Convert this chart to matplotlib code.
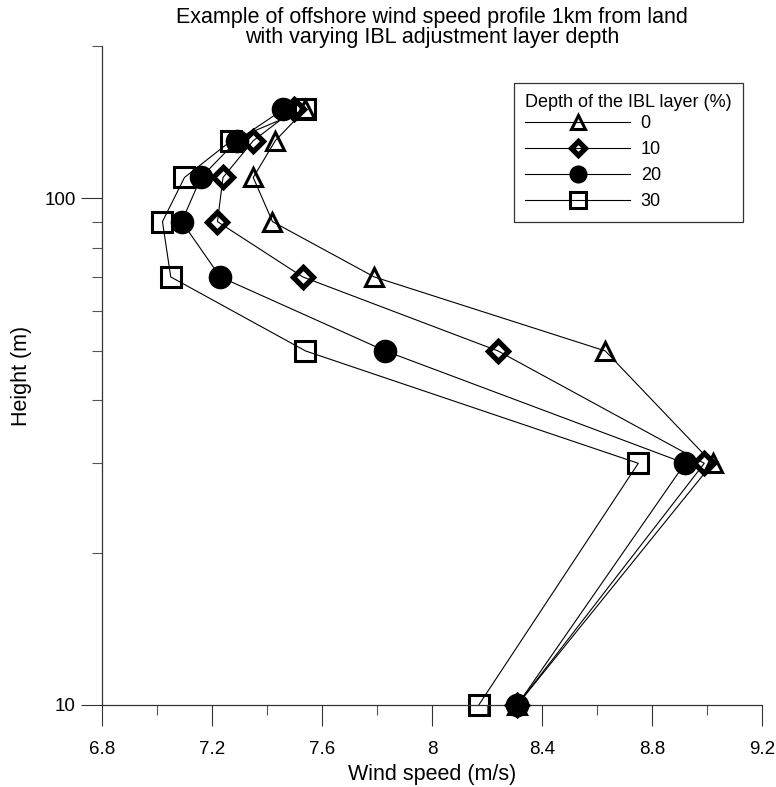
import matplotlib
matplotlib.use("Agg")
import matplotlib.pyplot as plt
from matplotlib.ticker import FixedLocator, NullFormatter, MultipleLocator

plt.rcParams['font.family'] = ['Liberation Sans', 'DejaVu Sans']

# Heights (m) and wind speeds (m/s) for each IBL layer depth
heights = [10, 30, 50, 70, 90, 110, 130, 150]
speed_0 = [8.31, 9.02, 8.63, 7.79, 7.42, 7.35, 7.43, 7.54]
speed_10 = [8.31, 8.99, 8.24, 7.53, 7.22, 7.24, 7.35, 7.50]
speed_20 = [8.31, 8.92, 7.83, 7.23, 7.09, 7.16, 7.29, 7.46]
speed_30 = [8.17, 8.75, 7.54, 7.05, 7.02, 7.10, 7.27, 7.54]
depth_labels = ['0', '10', '20', '30']

fig = plt.figure(figsize=(7.76, 7.87), dpi=100)
ax = fig.add_axes([0.1314, 0.1042, 0.8506, 0.8374])

# (values, marker, size, edge width, face colour, zorder)
styles = [
    (speed_0, '^', 13, 2.2, 'none', 3),
    (speed_10, 'D', 10, 3.8, 'none', 4),
    (speed_20, 'o', 16, 1.0, 'black', 5),
    (speed_30, 's', 15, 2.2, 'none', 2),
]
for (vals, mk, ms, mew, fc, z), lab in zip(styles, depth_labels):
    ax.plot(vals, heights, color='black', lw=0.8, marker=mk, markersize=ms,
            markeredgewidth=mew, markerfacecolor=fc, markeredgecolor='black',
            label=lab, zorder=z, clip_on=False)

ax.set_yscale('log')
ax.set_xlim(6.8, 9.2)
ax.set_ylim(10, 200)
ax.xaxis.set_minor_locator(MultipleLocator(0.2))
ax.set_xticks([6.8, 7.2, 7.6, 8.0, 8.4, 8.8, 9.2])
ax.set_xticklabels(['6.8', '7.2', '7.6', '8', '8.4', '8.8', '9.2'])
ax.yaxis.set_major_locator(FixedLocator([10, 100]))
ax.set_yticklabels(['10', '100'])
ax.yaxis.set_minor_locator(FixedLocator([20, 30, 40, 50, 60, 70, 80, 90, 200]))
ax.yaxis.set_minor_formatter(NullFormatter())

for side in ['top', 'right']:
    ax.spines[side].set_visible(False)
for side in ['left', 'bottom']:
    ax.spines[side].set_color('#333333')
    ax.spines[side].set_linewidth(0.9)
ax.tick_params(which='major', length=15, width=0.8, color='#333333',
               labelsize=13.5)
ax.tick_params(axis='x', which='major', pad=11)
ax.tick_params(axis='y', which='major', pad=4)
ax.tick_params(which='minor', length=7.5, width=0.8, color='#555555')

ax.set_xlabel('Wind speed (m/s)', fontsize=15.5, labelpad=4)
ax.set_ylabel('Height (m)', fontsize=15.5, labelpad=9)

title_x = 432 / 776
fig.text(title_x, 1 - 17 / 787, 'Example of offshore wind speed profile 1km from land',
         ha='center', va='center', fontsize=15.5)
fig.text(title_x, 1 - 38 / 787, 'with varying IBL adjustment layer depth',
         ha='center', va='center', fontsize=15.5)

leg = ax.legend(title='Depth of the IBL layer (%)', loc='upper right',
                bbox_to_anchor=(743 / 776, 1 - 83 / 787),
                bbox_transform=fig.transFigure, borderaxespad=0,
                fontsize=13, title_fontsize=13, handlelength=5.8,
                markerscale=0.75, labelspacing=0.5, handletextpad=0.6,
                borderpad=0.62, fancybox=False, edgecolor='#333333',
                framealpha=1)
leg.get_frame().set_linewidth(0.9)
leg._legend_box.align = 'left'
leg._legend_box.sep = 3

fig.savefig('out.png', dpi=100)
